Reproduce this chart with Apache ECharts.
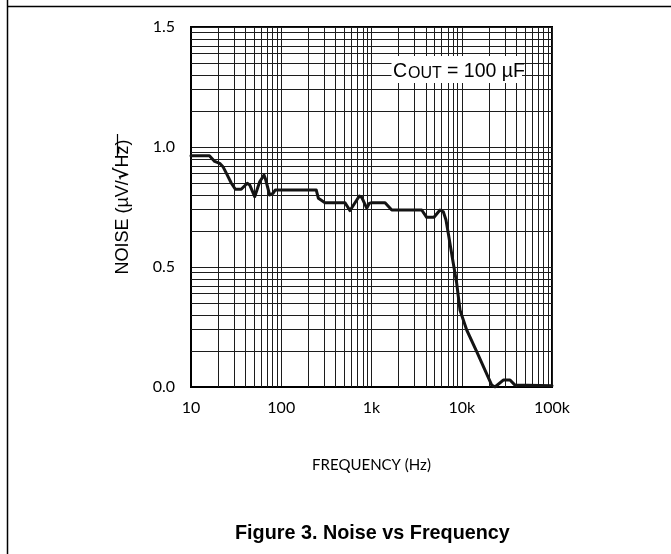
<!DOCTYPE html>
<html>
<head>
<meta charset="utf-8">
<script src="https://cdn.jsdelivr.net/npm/echarts@6/dist/echarts.min.js"></script>
<style>
html,body{margin:0;padding:0;background:#fff;}
#chart{width:671px;height:554px;}
</style>
</head>
<body>
<div id="chart"></div>
<script>
// Frequency (Hz) and noise (µV/√Hz)
var frequency = [10, 16, 18.3, 20.8, 22.6, 24.7, 28, 31, 36, 42, 44.7, 50.8, 57.7, 64.4, 66.5, 74.4, 81, 86,
  244, 258, 305, 509, 578, 600, 733, 780, 885, 946, 1005, 1413, 1676, 3600, 4087, 4926, 5740, 6250,
  6690, 7096, 7943, 8790, 9570, 11350, 14650, 21480, 23350, 28840, 34260, 38900, 100000];
var noise = [0.964, 0.964, 0.94, 0.932, 0.918, 0.89, 0.849, 0.824, 0.824, 0.849, 0.842, 0.793, 0.855, 0.883, 0.87, 0.80, 0.807, 0.821,
  0.821, 0.786, 0.768, 0.768, 0.735, 0.745, 0.796, 0.79, 0.745, 0.765, 0.768, 0.768, 0.7375, 0.7375, 0.707, 0.707, 0.7375, 0.73,
  0.696, 0.64, 0.529, 0.432, 0.32, 0.2375, 0.147, 0.008, 0.0, 0.029, 0.029, 0.008, 0.005];
var xTickValues = [10, 100, 1000, 10000, 100000];
var xTickLabels = ['10', '100', '1k', '10k', '100k'];
var yTickLabels = ['0.0', '0.5', '1.0', '1.5'];

var points = frequency.map(function (f, i) { return [f, noise[i]]; });

// minor log-style grid lines (graph paper)
var gridMarks = [];
xTickValues.slice(0, -1).forEach(function (d) {
  for (var k = 2; k <= 9; k++) gridMarks.push({ xAxis: d * k });
});
[0, 0.5, 1.0].forEach(function (b) {
  for (var k = 2; k <= 9; k++) gridMarks.push({ yAxis: b + 0.5 * Math.log10(k) });
});

var chart = echarts.init(document.getElementById('chart'), null, { renderer: 'canvas' });
var gridColor = '#1c1c1c';
chart.setOption({
  animation: false,
  backgroundColor: '#fff',
  title: {
    text: 'Figure 3. Noise vs Frequency',
    left: 230, top: 519,
    textStyle: { fontFamily: 'Liberation Sans', fontWeight: 'bold', fontSize: 19.8, color: '#000' }
  },
  grid: { left: 191, right: 119, top: 27, bottom: 167, show: true, borderColor: '#000', borderWidth: 2, backgroundColor: 'transparent' },
  xAxis: {
    type: 'log', logBase: 10, min: 10, max: 100000,
    name: 'FREQUENCY (Hz)', nameLocation: 'middle', nameGap: 71,
    nameTextStyle: { fontFamily: 'Lato', fontSize: 15, color: '#000' },
    axisLine: { show: true, lineStyle: { color: '#000', width: 2 } },
    axisTick: { show: false },
    axisLabel: {
      margin: 13, fontFamily: 'Lato', fontSize: 16, color: '#000',
      formatter: function (v) { var i = xTickValues.indexOf(Math.round(v)); return i >= 0 ? xTickLabels[i] : ''; }
    },
    splitLine: { show: true, lineStyle: { color: gridColor, width: 1 } },
    minorTick: { show: false }, minorSplitLine: { show: false }
  },
  yAxis: {
    type: 'value', min: 0, max: 1.5, interval: 0.5,
    name: '{a|NOISE (µV/}{b|√}{a|Hz)}', nameLocation: 'middle', nameGap: 58, nameRotate: 90,
    nameTextStyle: {
      rich: {
        a: { fontFamily: 'Liberation Sans', fontSize: 18, color: '#000' },
        b: { fontFamily: 'DejaVu Sans', fontWeight: 'bold', fontSize: 19, color: '#000' }
      }
    },
    axisLine: { show: true, lineStyle: { color: '#000', width: 2 } },
    axisTick: { show: false },
    axisLabel: {
      margin: 16, fontFamily: 'Lato', fontSize: 16, color: '#000',
      formatter: function (v) { return yTickLabels[Math.round(v / 0.5)]; }
    },
    splitLine: { show: true, lineStyle: { color: gridColor, width: 1 } }
  },
  series: [
    {
      type: 'line', data: [], z: 1, silent: true,
      markLine: {
        silent: true, symbol: ['none', 'none'], label: { show: false },
        lineStyle: { type: 'solid', color: gridColor, width: 1 },
        emphasis: { disabled: true },
        data: gridMarks
      }
    },
    {
      type: 'line', data: points, z: 5, showSymbol: false, symbol: 'none',
      lineStyle: { color: '#141414', width: 3, join: 'round', cap: 'round' }
    }
  ],
  graphic: [
    { type: 'line', shape: { x1: 7, y1: 6.5, x2: 671, y2: 6.5 }, style: { stroke: '#000', lineWidth: 1.5 }, z: 100 },
    { type: 'line', shape: { x1: 7.5, y1: 0, x2: 7.5, y2: 554 }, style: { stroke: '#000', lineWidth: 1.5 }, z: 100 },
    { type: 'rect', shape: { x: 391.5, y: 56, width: 130.5, height: 27 }, style: { fill: '#fff' }, z: 100 },
    { type: 'text', x: 393, y: 71.5, style: { text: 'C', font: '19.5px "Liberation Sans"', fill: '#000', verticalAlign: 'middle', align: 'left' }, z: 101 },
    { type: 'text', x: 408, y: 73.7, style: { text: 'OUT', font: '16px "Liberation Sans"', fill: '#000', verticalAlign: 'middle', align: 'left' }, z: 101 },
    { type: 'text', x: 447, y: 71.5, style: { text: '= 100 µF', font: '19.5px "Liberation Sans"', fill: '#000', verticalAlign: 'middle', align: 'left' }, z: 101 },
    { type: 'line', shape: { x1: 117.5, y1: 134, x2: 117.5, y2: 157 }, style: { stroke: '#000', lineWidth: 1.2 }, z: 100 }
  ]
});
</script>
</body>
</html>
